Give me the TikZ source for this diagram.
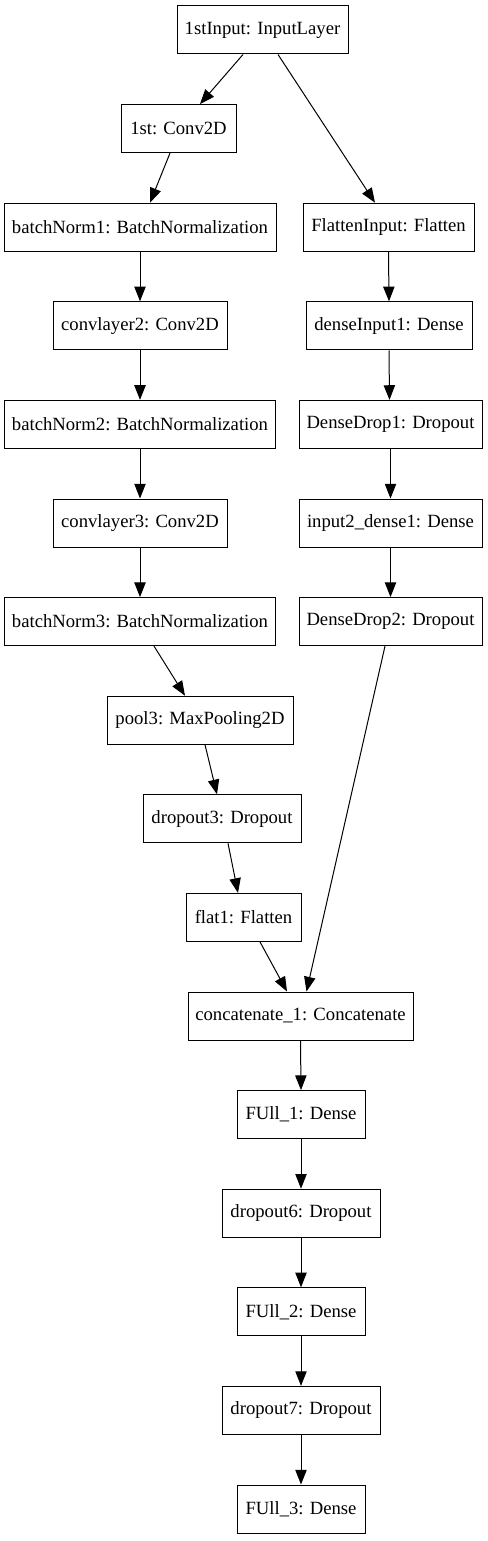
\documentclass[tikz,border=0pt]{standalone}
\usepackage{fontspec}
\setmainfont{Liberation Serif}
\usetikzlibrary{arrows.meta,calc}
\begin{document}
\begin{tikzpicture}[x=0.75pt,y=-0.75pt,
  lay/.style={draw, line width=0.75pt, minimum height=36pt, inner sep=0pt,
    font=\fontsize{14}{16}\selectfont},
  conn/.style={line width=0.75pt, -{Triangle[length=11pt,width=8.5pt]}}]
\useasboundingbox (0,0) rectangle (487,1541);
% left / top
\node[lay, minimum width=128.25pt] (in) at (262.5,30) {1stInput: InputLayer};
\node[lay, minimum width=86.25pt] (c1) at (178.5,128.6) {1st: Conv2D};
\node[lay, minimum width=204pt] (bn1) at (140,227.2) {batchNorm1: BatchNormalization};
\node[lay, minimum width=130.5pt] (cl2) at (140,325.8) {convlayer2: Conv2D};
\node[lay, minimum width=203.25pt] (bn2) at (140,424.4) {batchNorm2: BatchNormalization};
\node[lay, minimum width=130.5pt] (cl3) at (140,523) {convlayer3: Conv2D};
\node[lay, minimum width=203.25pt] (bn3) at (140,621.6) {batchNorm3: BatchNormalization};
\node[lay, minimum width=139.5pt] (p3) at (200,720.2) {pool3: MaxPooling2D};
\node[lay, minimum width=118.5pt] (do3) at (222,818.8) {dropout3: Dropout};
\node[lay, minimum width=86.25pt] (fl1) at (243.5,917.4) {flat1: Flatten};
% right
\node[lay, minimum width=128.25pt] (fi) at (388.5,227.2) {FlattenInput: Flatten};
\node[lay, minimum width=124.5pt] (di) at (389,325.8) {denseInput1: Dense};
\node[lay, minimum width=137.25pt] (dd1) at (390.5,424.4) {DenseDrop1: Dropout};
\node[lay, minimum width=137.25pt] (i2) at (390.5,523) {input2\_dense1: Dense};
\node[lay, minimum width=137.25pt] (dd2) at (390.5,621.6) {DenseDrop2: Dropout};
% bottom
\node[lay, minimum width=168.75pt] (cat) at (300.5,1016) {concatenate\_1: Concatenate};
\node[lay, minimum width=96pt] (f1) at (301,1114.6) {FUll\_1: Dense};
\node[lay, minimum width=118.5pt] (do6) at (301,1213.2) {dropout6: Dropout};
\node[lay, minimum width=96pt] (f2) at (301,1311.8) {FUll\_2: Dense};
\node[lay, minimum width=118.5pt] (do7) at (301,1410.4) {dropout7: Dropout};
\node[lay, minimum width=96pt] (f3) at (301,1509) {FUll\_3: Dense};
% connectors
\draw[conn] ($(in.south)+(-19.5,0)$) -- ($(c1.north)+(21.5,0)$);
\draw[conn] ($(in.south)+(15.5,0)$) -- ($(fi.north)+(-13.5,0)$);
\draw[conn] ($(c1.south)+(-8.5,0)$) -- ($(bn1.north)+(10,0)$);
\draw[conn] (bn1.south) -- (cl2.north);
\draw[conn] (cl2.south) -- (bn2.north);
\draw[conn] (bn2.south) -- (cl3.north);
\draw[conn] (cl3.south) -- (bn3.north);
\draw[conn] ($(bn3.south)+(14,0)$) -- ($(p3.north)+(-15,0)$);
\draw[conn] ($(p3.south)+(5,0)$) -- ($(do3.north)+(-5,0)$);
\draw[conn] ($(do3.south)+(6,0)$) -- ($(fl1.north)+(-5.5,0)$);
\draw[conn] ($(fl1.south)+(16.5,0)$) -- ($(cat.north)+(-13.5,0)$);
\draw[conn] (fi.south) -- (di.north);
\draw[conn] (di.south) -- ($(dd1.north)+(-1,0)$);
\draw[conn] (dd1.south) -- (i2.north);
\draw[conn] (i2.south) -- (dd2.north);
\draw[conn] ($(dd2.south)+(-5.5,0)$) -- ($(cat.north)+(6,0)$);
\draw[conn] (cat.south) -- (f1.north);
\draw[conn] (f1.south) -- (do6.north);
\draw[conn] (do6.south) -- (f2.north);
\draw[conn] (f2.south) -- (do7.north);
\draw[conn] (do7.south) -- (f3.north);
\end{tikzpicture}
\end{document}
